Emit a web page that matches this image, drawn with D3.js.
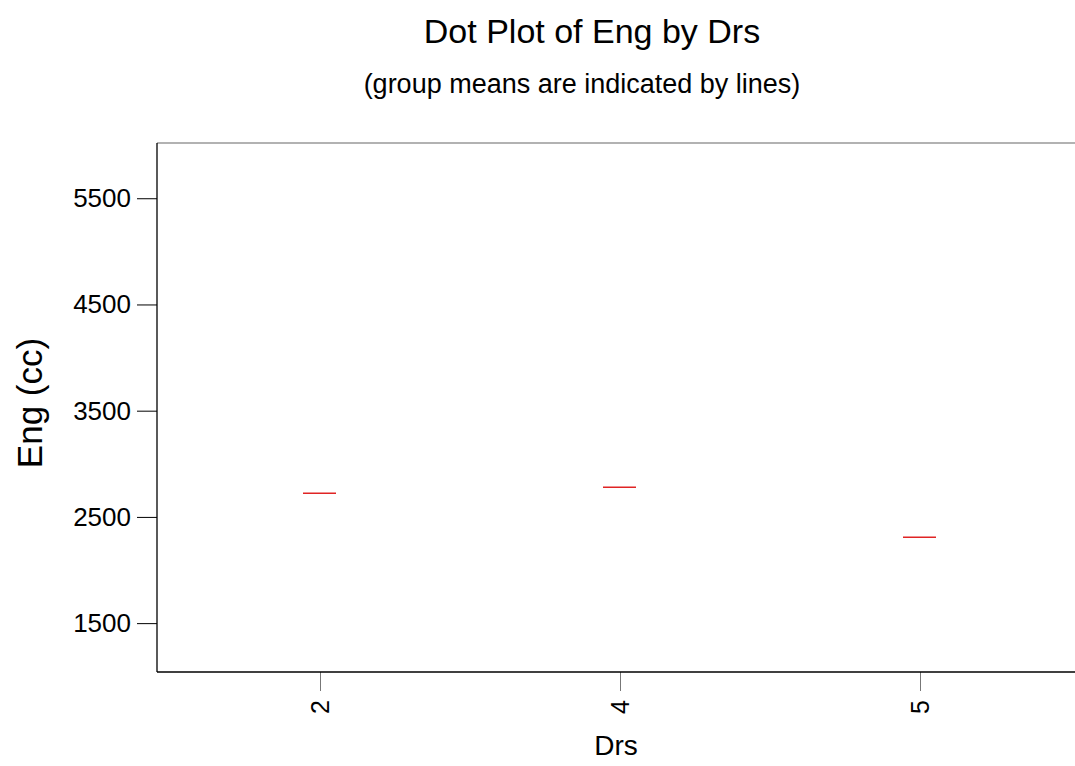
<!DOCTYPE html>
<html>
<head>
<meta charset="UTF-8">
<title>Dot Plot of Eng by Drs</title>
<script src="https://cdn.jsdelivr.net/npm/d3@7"></script>
<style>
  body { margin: 0; background: #fff; }
  svg text { font-family: "Liberation Sans", Arial, sans-serif; fill: #000; }
</style>
</head>
<body>
<div id="root"></div>
<script>
  // data
  let categories = ["2", "4", "5"]
  let groupMeans = [2723, 2780, 2308]
  let yTicks = [1500, 2500, 3500, 4500, 5500]
  let yDomain = [1040, 6020]

  let width = 1075, height = 766
  let plotLeft = 157, plotRight = 1075, plotTop = 143, plotBottom = 672

  let svg = d3.select("#root").append("svg").attr("width", width).attr("height", height)

  let x = d3.scalePoint().domain(categories).range([320, 920])
  let y = d3.scaleLinear().domain(yDomain).range([plotBottom, plotTop])

  // frame
  svg.append("line").attr("x1", plotLeft).attr("x2", plotRight).attr("y1", plotTop).attr("y2", plotTop)
    .attr("stroke", "#666").attr("stroke-width", 1.2)

  // y axis
  let yAxis = d3.axisLeft(y).tickValues(yTicks).tickSize(20).tickPadding(6).tickFormat(d3.format("d"))
  let gy = svg.append("g").attr("transform", "translate(" + plotLeft + ",0)").call(yAxis)
  gy.select(".domain").remove()
  gy.selectAll(".tick line").attr("stroke", "#000")
  gy.selectAll(".tick text").style("font-size", "26px")
  gy.append("line").attr("x1", 0).attr("x2", 0).attr("y1", plotTop).attr("y2", plotBottom).attr("stroke", "#000").attr("stroke-width", 1.3)

  // x axis
  let xAxis = d3.axisBottom(x).tickSize(19).tickPadding(0)
  let gx = svg.append("g").attr("transform", "translate(0," + plotBottom + ")").call(xAxis)
  gx.select(".domain").remove()
  gx.selectAll(".tick line").attr("stroke", "#777")
  gx.selectAll(".tick text")
    .style("font-size", "25px")
    .attr("text-anchor", "end")
    .attr("transform", "translate(0,28) rotate(-90)")
    .attr("x", 0).attr("y", 0).attr("dy", "0.35em")
  gx.append("line").attr("x1", plotLeft).attr("x2", plotRight).attr("y1", 0).attr("y2", 0).attr("stroke", "#000").attr("stroke-width", 1.5)

  // group mean lines
  svg.append("g").selectAll("line").data(categories).join("line")
    .attr("x1", d => x(d) - 17).attr("x2", d => x(d) + 16)
    .attr("y1", (d, i) => y(groupMeans[i])).attr("y2", (d, i) => y(groupMeans[i]))
    .attr("stroke", "#e02424").attr("stroke-width", 1.5)

  // titles
  svg.append("text").attr("x", 592).attr("y", 43).attr("text-anchor", "middle")
    .style("font-size", "34px").text("Dot Plot of Eng by Drs")
  svg.append("text").attr("x", 582).attr("y", 93).attr("text-anchor", "middle")
    .style("font-size", "27px").text("(group means are indicated by lines)")

  svg.append("text").attr("transform", "translate(42,403) rotate(-90)").attr("text-anchor", "middle")
    .style("font-size", "35px").text("Eng (cc)")
  svg.append("text").attr("x", 616).attr("y", 755).attr("text-anchor", "middle")
    .style("font-size", "28px").text("Drs")
</script>
</body>
</html>
